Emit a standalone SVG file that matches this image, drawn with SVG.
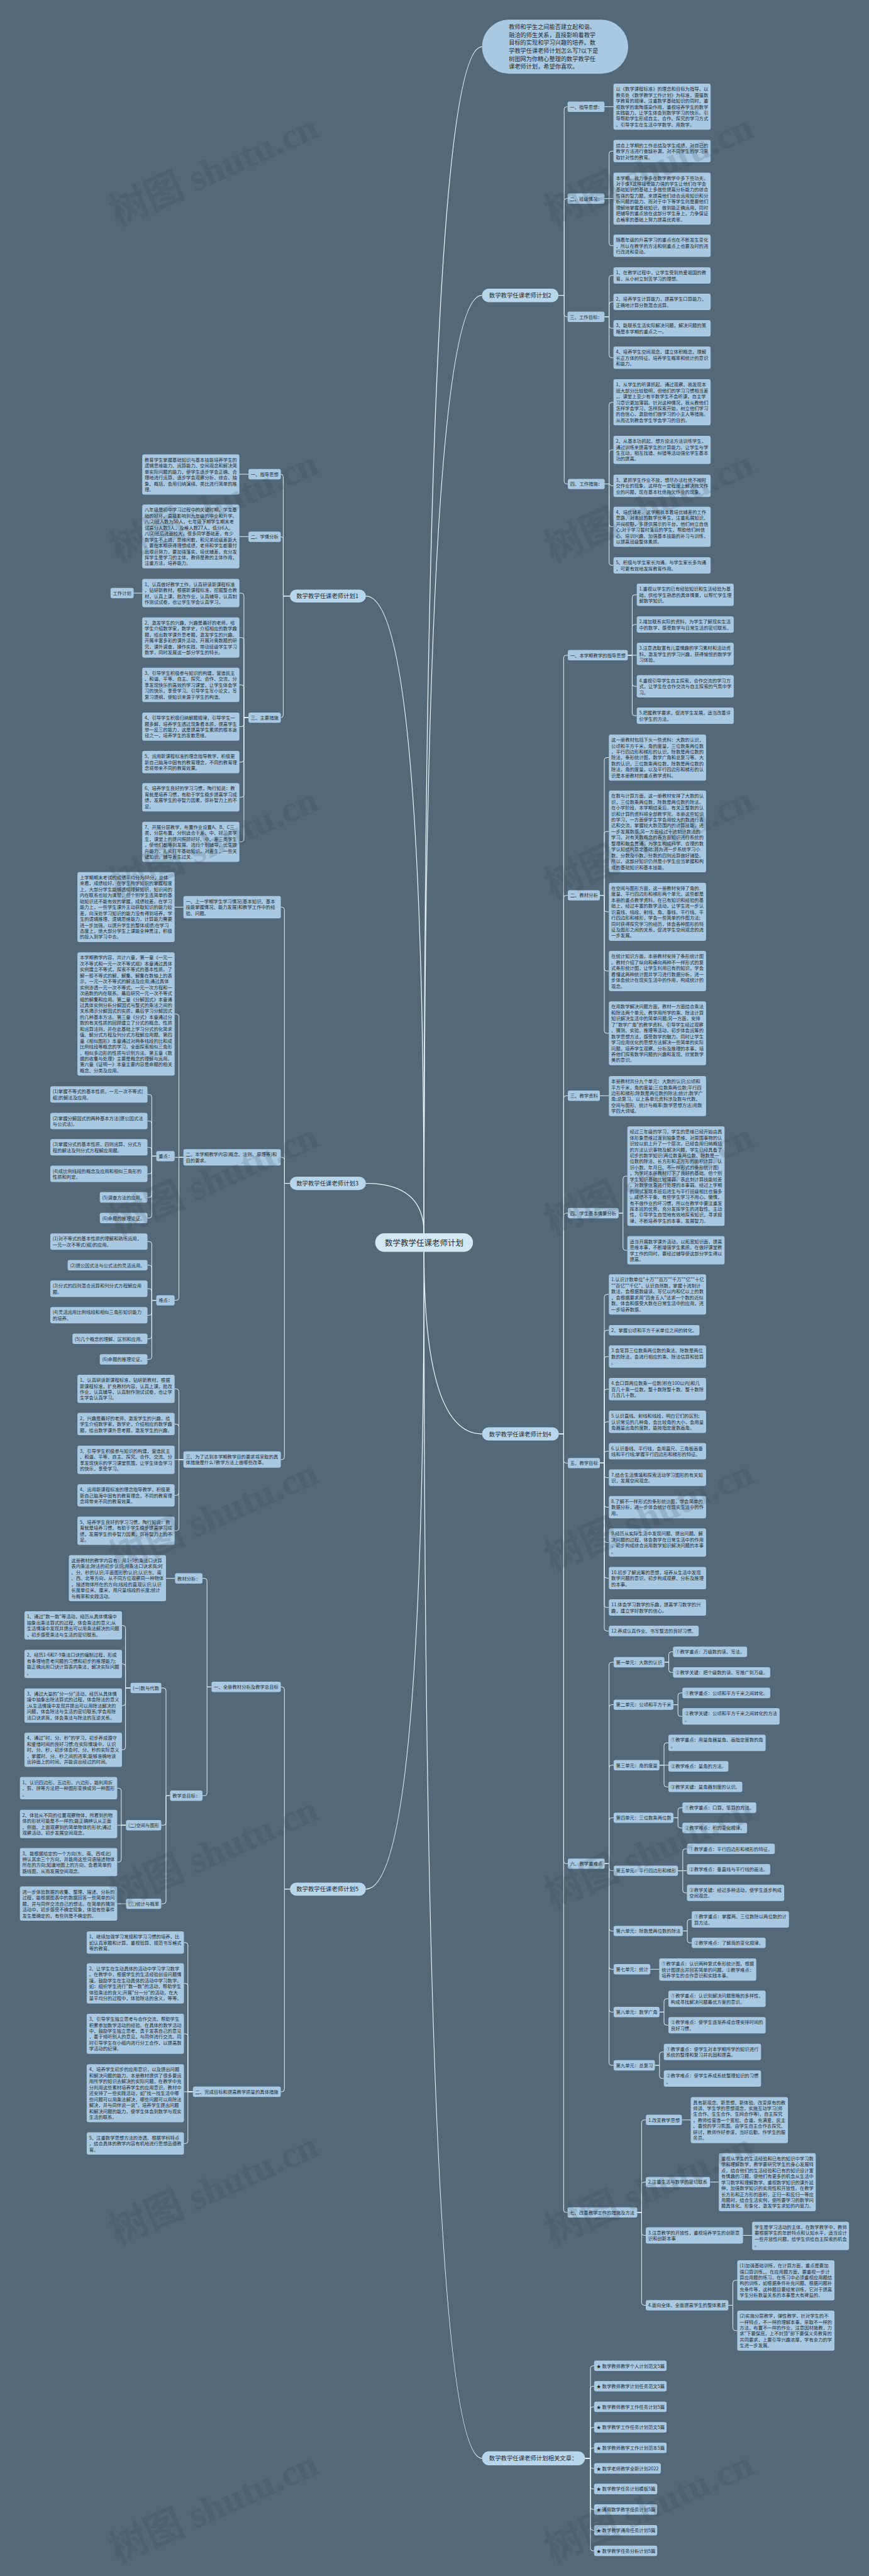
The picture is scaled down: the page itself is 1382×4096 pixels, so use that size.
<svg xmlns="http://www.w3.org/2000/svg" width="1382" height="4096" viewBox="0 0 1382 4096">
<style>
.t{font-family:"Noto Sans CJK SC","Noto Sans",sans-serif;font-size:7.35px;fill:#262b30}
.b{fill:#a9c9e2}
.r{fill:#b7d5eb}
.ce{fill:#d2e7f4}
.ti{font-size:9.2px}
.tb{font-size:9.4px}
.tc{font-size:12.5px}
.c{fill:none;stroke:#e0f0fa;stroke-width:1}
.m{fill:none;stroke:#e6f4fc;stroke-width:1.3}
.wm{font-family:"Liberation Serif","Noto Sans CJK SC",serif;font-size:60px;font-weight:bold;fill:#2a3a46;opacity:.16}
</style>
<rect width="1382" height="4096" fill="#536979"/>
<g id="connectors">
<path class="m" d="M674.3,1961Q674.3,74.3 766.6,74.3"/>
<path class="m" d="M674.3,1961Q674.3,469.6 766.6,469.6"/>
<path class="m" d="M674.3,1961Q674.3,947.8 581.9,947.8"/>
<path class="m" d="M674.3,1961Q674.3,1881.6 581.9,1881.6"/>
<path class="m" d="M674.3,1990.5Q674.3,2280 766.6,2280"/>
<path class="m" d="M674.3,1990.5Q674.3,3003.8 581.9,3003.8"/>
<path class="m" d="M674.3,1990.5Q674.3,3908.9 766.6,3908.9"/>
<path class="c" d="M888.1,469.6H897.2V173.7Q897.2,169.7 901.2,169.7H902.6M888.1,469.6H897.2V319.6Q897.2,315.6 901.2,315.6H902.6M888.1,469.6H897.2V499.7Q897.2,503.7 901.2,503.7H902.6M888.1,469.6H897.2V765.5Q897.2,769.5 901.2,769.5H903"/>
<path class="c" d="M961.3,169.7H975.6M961.3,315.6H968.7V244.3Q968.7,240.3 972.7,240.3H975.6M961.3,315.6H975.6M961.3,315.6H968.7V386.7Q968.7,390.7 972.7,390.7H975.6"/>
<path class="c" d="M961.3,503.7H968.7V441.9Q968.7,437.9 972.7,437.9H975.6M961.3,503.7H968.7V484Q968.7,480 972.7,480H975.6M961.3,503.7H968.7V518Q968.7,522 972.7,522H975.6M961.3,503.7H968.7V564.8Q968.7,568.8 972.7,568.8H975.6"/>
<path class="c" d="M961.6,769.5H968.7V643.7Q968.7,639.7 972.7,639.7H975.6M961.6,769.5H968.7V719.4Q968.7,715.4 972.7,715.4H975.6M961.6,769.5H968.7C970.7,769.5 970.7,772.5 972.7,772.5H975.6M961.6,769.5H968.7V833.6Q968.7,837.6 972.7,837.6H975.6M961.6,769.5H968.7V894.9Q968.7,898.9 972.7,898.9H975.6"/>
<path class="c" d="M461,947.8H450.4V757.8Q450.4,754 446.6,754M461,947.8H450.4V857.1Q450.4,853.3 446.6,853.3M461,947.8H450.4V1137.2Q450.4,1141 446.6,1141"/>
<path class="c" d="M395.1,754H380.7M395.1,853.3H380.7M226.2,943.1H212.5"/>
<path class="c" d="M395.1,1141H387.9V947.1Q387.9,943.1 383.9,943.1H380.7M395.1,1141H387.9V1017.7Q387.9,1013.7 383.9,1013.7H380.7M395.1,1141H387.9V1093Q387.9,1089 383.9,1089H380.7M395.1,1141H387.9V1151.4Q387.9,1155.4 383.9,1155.4H380.7M395.1,1141H387.9V1207.8Q387.9,1211.8 383.9,1211.8H380.7M395.1,1141H387.9V1263.7Q387.9,1267.7 383.9,1267.7H380.7M395.1,1141H387.9V1334.6Q387.9,1338.6 383.9,1338.6H380.7"/>
<path class="c" d="M461,1881.6H452.3V1446.4Q452.3,1442.4 448.3,1442.4H446.6M461,1881.6H452.3V1844.2Q452.3,1840.2 448.3,1840.2H446.6M461,1881.6H452.3V2316.8Q452.3,2320.8 448.3,2320.8H446.6"/>
<path class="c" d="M291.7,1442.4H277.7M291.7,1840.2H284.5V1616.3Q284.5,1612.3 280.5,1612.3H277.7M291.7,1840.2H277.7M291.7,1840.2H284.5V2063.6Q284.5,2067.6 280.5,2067.6H277.7"/>
<path class="c" d="M248.5,1838.4H241.3V1744.3Q241.3,1740.3 237.3,1740.3H234.5M248.5,1838.4H241.3V1786.5Q241.3,1782.5 237.3,1782.5H234.5M248.5,1838.4H241.3V1828.3Q241.3,1824.3 237.3,1824.3H234.5M248.5,1838.4H241.3V1862.5Q241.3,1866.5 237.3,1866.5H234.5M248.5,1838.4H241.3V1899.9Q241.3,1903.9 237.3,1903.9H234.5M248.5,1838.4H241.3V1932.7Q241.3,1936.7 237.3,1936.7H234.5"/>
<path class="c" d="M248.5,2067.6H241.3V1978.2Q241.3,1974.2 237.3,1974.2H234.5M248.5,2067.6H241.3V2015.7Q241.3,2011.7 237.3,2011.7H234.5M248.5,2067.6H241.3V2053.1Q241.3,2049.1 237.3,2049.1H234.5M248.5,2067.6H241.3V2087.3Q241.3,2091.3 237.3,2091.3H234.5M248.5,2067.6H241.3V2124.8Q241.3,2128.8 237.3,2128.8H234.5M248.5,2067.6H241.3V2157.5Q241.3,2161.5 237.3,2161.5H234.5"/>
<path class="c" d="M291.7,2320.8H284.5V2212.4Q284.5,2208.4 280.5,2208.4H277.7M291.7,2320.8H284.5V2268.4Q284.5,2264.4 280.5,2264.4H277.7M291.7,2320.8H277.7M291.7,2320.8H284.5V2373.7Q284.5,2377.7 280.5,2377.7H277.7M291.7,2320.8H284.5V2430Q284.5,2434 280.5,2434H277.7"/>
<path class="c" d="M461,3003.8H452.3V2686.3Q452.3,2682.3 448.3,2682.3H446.6M461,3003.8H452.3V3322Q452.3,3326 448.3,3326H446.6"/>
<path class="c" d="M336.4,2682.3H329.2V2513.7Q329.2,2509.7 325.2,2509.7H322M336.4,2682.3H329.2V2851.3Q329.2,2855.3 325.2,2855.3H322M278.4,2509.7H264"/>
<path class="c" d="M270.5,2855.3H264V2688Q264,2684 260,2684H256.5M270.5,2855.3H264V2898.2Q264,2902.2 260,2902.2H256.5M270.5,2855.3H264V3023.1Q264,3027.1 260,3027.1H256.5"/>
<path class="c" d="M207.6,2684H199.6V2588.6Q199.6,2584.6 195.6,2584.6H194M207.6,2684H199.6V2649.8Q199.6,2645.8 195.6,2645.8H194M207.6,2684H199.6V2708Q199.6,2712 195.6,2712H194M207.6,2684H199.6V2778.2Q199.6,2782.2 195.6,2782.2H194"/>
<path class="c" d="M200.4,2902.2H192.8V2847.4Q192.8,2843.4 188.8,2843.4H186.4M200.4,2902.2H186.4M200.4,2902.2H192.8V2956.9Q192.8,2960.9 188.8,2960.9H186.4M200.4,3027.1H186.4"/>
<path class="c" d="M306.8,3326H298.8V3092.8Q298.8,3088.8 294.8,3088.8H292.5M306.8,3326H298.8V3157.7Q298.8,3153.7 294.8,3153.7H292.5M306.8,3326H298.8V3237.8Q298.8,3233.8 294.8,3233.8H292.5M306.8,3326H292.5M306.8,3326H298.8V3404.4Q298.8,3408.4 294.8,3408.4H292.5"/>
<path class="c" d="M888.9,2280H896.4V1045.8Q896.4,1041.8 900.4,1041.8H903M888.9,2280H896.4V1427.6Q896.4,1423.6 900.4,1423.6H903M888.9,2280H896.4V1746.3Q896.4,1742.3 900.4,1742.3H903M888.9,2280H896.4V1933Q896.4,1929 900.4,1929H903M888.9,2280H896.4V2322.4Q896.4,2326.4 900.4,2326.4H903M888.9,2280H896.4V2959.4Q896.4,2963.4 900.4,2963.4H903M888.9,2280H896.4V3513.9Q896.4,3517.9 900.4,3517.9H903"/>
<path class="c" d="M998.4,1041.8H1005.4V949.8Q1005.4,945.8 1009.4,945.8H1012.6M998.4,1041.8H1005.4V996.9Q1005.4,992.9 1009.4,992.9H1012.6M998.4,1041.8H1012.6M998.4,1041.8H1005.4V1087.3Q1005.4,1091.3 1009.4,1091.3H1012.6M998.4,1041.8H1005.4V1134Q1005.4,1138 1009.4,1138H1012.6"/>
<path class="c" d="M954,1423.6H961V1208.6Q961,1204.6 965,1204.6H968.3M954,1423.6H961V1326Q961,1322 965,1322H968.3M954,1423.6H961V1445.8Q961,1449.8 965,1449.8H968.3M954,1423.6H961V1540Q961,1544 965,1544H968.3M954,1423.6H961V1639Q961,1643 965,1643H968.3M954,1742.3H968.3"/>
<path class="c" d="M983.8,1929H990.8V1874.2Q990.8,1870.2 994.8,1870.2H997.7M983.8,1929H990.8V1984.1Q990.8,1988.1 994.8,1988.1H997.7"/>
<path class="c" d="M954,2326.4H961V2062.2Q961,2058.2 965,2058.2H968.3M954,2326.4H961V2119.2Q961,2115.2 965,2115.2H968.3M954,2326.4H961V2161Q961,2157 965,2157H968.3M954,2326.4H961V2212.9Q961,2208.9 965,2208.9H968.3M954,2326.4H961V2264.8Q961,2260.8 965,2260.8H968.3M954,2326.4H961V2311.5Q961,2307.5 965,2307.5H968.3M954,2326.4H961V2345.6Q961,2349.6 965,2349.6H968.3M954,2326.4H961V2392.5Q961,2396.5 965,2396.5H968.3M954,2326.4H961V2448.7Q961,2452.7 965,2452.7H968.3M954,2326.4H961V2505.3Q961,2509.3 965,2509.3H968.3M954,2326.4H961V2552Q961,2556 965,2556H968.3M954,2326.4H961V2589.4Q961,2593.4 965,2593.4H968.3"/>
<path class="c" d="M961.6,2963.4H968.6V2647Q968.6,2643 972.6,2643H975.9M961.6,2963.4H968.6V2714.6Q968.6,2710.6 972.6,2710.6H975.9M961.6,2963.4H968.6V2810.7Q968.6,2806.7 972.6,2806.7H975.9M961.6,2963.4H968.6V2894.4Q968.6,2890.4 972.6,2890.4H975.9M961.6,2963.4H968.6V2970.6Q968.6,2974.6 972.6,2974.6H975.9M961.6,2963.4H968.6V3066.4Q968.6,3070.4 972.6,3070.4H975.9M961.6,2963.4H968.6V3127.3Q968.6,3131.3 972.6,3131.3H975.9M961.6,2963.4H968.6V3195.3Q968.6,3199.3 972.6,3199.3H975.9M961.6,2963.4H968.6V3280Q968.6,3284 972.6,3284H975.9"/>
<path class="c" d="M1056.7,2643H1063.6V2630.5Q1063.6,2626.5 1067.6,2626.5H1070.3M1056.7,2643H1063.6V2655.2Q1063.6,2659.2 1067.6,2659.2H1070.3"/>
<path class="c" d="M1070.9,2710.6H1078.2V2695.9Q1078.2,2691.9 1082.2,2691.9H1085.2M1070.9,2710.6H1078.2V2725.1Q1078.2,2729.1 1082.2,2729.1H1085.2"/>
<path class="c" d="M1048.8,2806.7H1056V2775.2Q1056,2771.2 1060,2771.2H1063M1048.8,2806.7H1063M1048.8,2806.7H1056V2837.3Q1056,2841.3 1060,2841.3H1063"/>
<path class="c" d="M1070.9,2890.4H1078.2V2878.4Q1078.2,2874.4 1082.2,2874.4H1085.2M1070.9,2890.4H1078.2V2902.6Q1078.2,2906.6 1082.2,2906.6H1085.2"/>
<path class="c" d="M1078.2,2974.6H1085.8V2943.8Q1085.8,2939.8 1089.8,2939.8H1092.5M1078.2,2974.6H1092.5M1078.2,2974.6H1085.8V3005.8Q1085.8,3009.8 1089.8,3009.8H1092.5"/>
<path class="c" d="M1085.8,3070.4H1093.1V3055.9Q1093.1,3051.9 1097.1,3051.9H1100.1M1085.8,3070.4H1093.1V3085.3Q1093.1,3089.3 1097.1,3089.3H1100.1M1034.2,3131.3H1048.4"/>
<path class="c" d="M1048.8,3199.3H1056V3182.2Q1056,3178.2 1060,3178.2H1063M1048.8,3199.3H1056V3216.2Q1056,3220.2 1060,3220.2H1063"/>
<path class="c" d="M1041.5,3284H1048.8V3266.8Q1048.8,3262.8 1052.8,3262.8H1055.7M1041.5,3284H1048.8V3300.9Q1048.8,3304.9 1052.8,3304.9H1055.7"/>
<path class="c" d="M1013.4,3517.9H1020.4V3374.8Q1020.4,3370.8 1024.4,3370.8H1027M1013.4,3517.9H1020.4V3473.6Q1020.4,3469.6 1024.4,3469.6H1027M1013.4,3517.9H1020.4V3550.4Q1020.4,3554.4 1024.4,3554.4H1027M1013.4,3517.9H1020.4V3661.5Q1020.4,3665.5 1024.4,3665.5H1027"/>
<path class="c" d="M1084.5,3370.8H1098.5M1129.1,3469.6H1143.2M1181.6,3554.4H1196.1M1158.4,3665.5H1165.5V3629.8Q1165.5,3625.8 1169.5,3625.8H1172.5M1158.4,3665.5H1165.5V3701.8Q1165.5,3705.8 1169.5,3705.8H1172.5"/>
<path class="c" d="M930.3,3908.9H939V3765.7Q939,3761.7 943,3761.7H944.8M930.3,3908.9H939V3798.3Q939,3794.3 943,3794.3H944.8M930.3,3908.9H939V3831Q939,3827 943,3827H944.8M930.3,3908.9H939V3863.6Q939,3859.6 943,3859.6H944.8M930.3,3908.9H939V3896.3Q939,3892.3 943,3892.3H944.8M930.3,3908.9H939V3920.9Q939,3924.9 943,3924.9H944.8M930.3,3908.9H939V3953.6Q939,3957.6 943,3957.6H944.8M930.3,3908.9H939V3986.2Q939,3990.2 943,3990.2H944.8M930.3,3908.9H939V4019.3Q939,4023.3 943,4023.3H944.8M930.3,3908.9H939V4052Q939,4056 943,4056H944.8"/>
</g>

<g id="central" transform="translate(596.7,1961)"><rect class="ce" width="155.5" height="29.5" rx="14.75"/><text class="t tc" x="77.7" y="19.5" text-anchor="middle">数学教学任课老师计划</text></g>

<g id="intro" transform="translate(766.6,31.3)"><rect class="b" width="232.4" height="86" rx="43"/><text class="t ti" y="14.7"><tspan x="42.6">教师和学生之间能否建立起和谐、</tspan><tspan x="42.6" dy="12.7">融洽的师生关系，直接影响着教学</tspan><tspan x="42.6" dy="12.7">目标的实现和学习兴趣的培养。数</tspan><tspan x="42.6" dy="12.7">学教学任课老师计划怎么写?以下是</tspan><tspan x="42.6" dy="12.7">树图网为你精心整理的数学教学任</tspan><tspan x="42.6" dy="12.7">课老师计划，希望你喜欢。</tspan></text></g>

<g id="plan2" transform="translate(766.6,458.9)"><rect class="r" width="121.5" height="21.5" rx="10.75"/><text class="t tb" x="11.2" y="14.3">数学教学任课老师计划2</text></g>
<g id="p2-h1" transform="translate(902.6,161.6)"><rect class="b" width="58.7" height="16.4" rx="3"/><text class="t" x="3.7" y="11">一、指导思想：</text></g>
<g id="p2-h1-a" transform="translate(975.6,133)"><rect class="b" width="154.5" height="73.3" rx="3"/><text class="t" y="11.2"><tspan x="3.8">以《数学课程标准》的理念和目标为指导，以</tspan><tspan x="3.8" dy="9.45">教务处《数学教学工作计划》为标准，遵循数</tspan><tspan x="3.8" dy="9.45">学教育的规律，注重数学基础知识的同时，重</tspan><tspan x="3.8" dy="9.45">视数学的熏陶感染作用，重视培养学生的数学</tspan><tspan x="3.8" dy="9.45">实践能力，让学生体会到数学学习的快乐。引</tspan><tspan x="3.8" dy="9.45">导帮助学生形成自主、合作、探究的学习方式</tspan><tspan x="3.8" dy="9.45">。引导学生在生活中学数学、用数学。</tspan></text></g>
<g id="p2-h2" transform="translate(902.6,307.6)"><rect class="b" width="58.7" height="16.4" rx="3"/><text class="t" x="3.7" y="11">二、班级情况：</text></g>
<g id="p2-h2-a" transform="translate(975.6,222.5)"><rect class="b" width="154.5" height="35.5" rx="3"/><text class="t" y="11.2"><tspan x="3.8">结合上学期的工作总结及学生成绩，对自己的</tspan><tspan x="3.8" dy="9.45">教学方法进行查缺补漏，对不同学生的学习采</tspan><tspan x="3.8" dy="9.45">取针对性的教育。</tspan></text></g>
<g id="p2-h2-b" transform="translate(975.6,274.4)"><rect class="b" width="154.5" height="82.75" rx="3"/><text class="t" y="11.2"><tspan x="3.8">本学期。我力争多在数学教学中多下些功夫。</tspan><tspan x="3.8" dy="9.45">对于像X这样接受能力强的学生让他们在学会</tspan><tspan x="3.8" dy="9.45">基础知识的基础上多做些提高分析能力的综合</tspan><tspan x="3.8" dy="9.45">性强的智力题，来提高他们综合运用知识和分</tspan><tspan x="3.8" dy="9.45">析问题的能力。而对于中下等学生则是要他们</tspan><tspan x="3.8" dy="9.45">理解地掌握基础知识，做到能正确运用，同时</tspan><tspan x="3.8" dy="9.45">把辅导的重点放在这部分学生身上，力争保证</tspan><tspan x="3.8" dy="9.45">合格率的基础上努力提高优秀率。</tspan></text></g>
<g id="p2-h2-c" transform="translate(975.6,372.9)"><rect class="b" width="154.5" height="35.5" rx="3"/><text class="t" y="11.2"><tspan x="3.8">随着年级的升高学习的重点也在不断发生变化</tspan><tspan x="3.8" dy="9.45">，所以在教学的方法和侧重点上也要及时的进</tspan><tspan x="3.8" dy="9.45">行改进和变动。</tspan></text></g>
<g id="p2-h3" transform="translate(902.6,495.6)"><rect class="b" width="58.7" height="16.4" rx="3"/><text class="t" x="3.7" y="11">三、工作目标：</text></g>
<g id="p2-h3-a" transform="translate(975.6,424.9)"><rect class="b" width="154.5" height="26.05" rx="3"/><text class="t" y="11.2"><tspan x="3.8">1、在教学过程中，让学生受到热爱祖国的教</tspan><tspan x="3.8" dy="9.45">育，从小树立刻苦学习的理想。</tspan></text></g>
<g id="p2-h3-b" transform="translate(975.6,467)"><rect class="b" width="154.5" height="26.05" rx="3"/><text class="t" y="11.2"><tspan x="3.8">2、培养学生计算能力，提高学生口算能力，</tspan><tspan x="3.8" dy="9.45">正确地计算分数混合运算。</tspan></text></g>
<g id="p2-h3-c" transform="translate(975.6,509)"><rect class="b" width="154.5" height="26.05" rx="3"/><text class="t" y="11.2"><tspan x="3.8">3、能联系生活实际解决问题，解决问题的策</tspan><tspan x="3.8" dy="9.45">略是本学期的重点之一。</tspan></text></g>
<g id="p2-h3-d" transform="translate(975.6,551.1)"><rect class="b" width="154.5" height="35.5" rx="3"/><text class="t" y="11.2"><tspan x="3.8">4、培养学生空间观念，建立体积概念，理解</tspan><tspan x="3.8" dy="9.45">长正方体的特征。培养学生概率和统计的意识</tspan><tspan x="3.8" dy="9.45">和能力。</tspan></text></g>
<g id="p2-h4" transform="translate(903,761.4)"><rect class="b" width="58.6" height="16.4" rx="3"/><text class="t" x="3.7" y="11">四、工作措施：</text></g>
<g id="p2-h4-a" transform="translate(975.6,603)"><rect class="b" width="154.5" height="73.3" rx="3"/><text class="t" y="11.2"><tspan x="3.8">1、从学生的听课抓起。通过观察，我发现本</tspan><tspan x="3.8" dy="9.45">班大部分比较聪明，但他们的学习习惯相当差</tspan><tspan x="3.8" dy="9.45">，。课堂上至少有半数学生不会听课，自主学</tspan><tspan x="3.8" dy="9.45">习意识更加薄弱。针对这种情况，我从教他们</tspan><tspan x="3.8" dy="9.45">怎样学会学习，怎样探索开始，树立他们学习</tspan><tspan x="3.8" dy="9.45">的自信心，激励他们做学习的小主人等措施。</tspan><tspan x="3.8" dy="9.45">从而达到教会学生学会学习的目的。</tspan></text></g>
<g id="p2-h4-b" transform="translate(975.6,692.9)"><rect class="b" width="154.5" height="44.95" rx="3"/><text class="t" y="11.2"><tspan x="3.8">2、从基本功抓起。想方设法方法训练学生，</tspan><tspan x="3.8" dy="9.45">通过训练来提高学生的计算能力。让学生与学</tspan><tspan x="3.8" dy="9.45">生互动，相互找错、纠错等活动强化学生基本</tspan><tspan x="3.8" dy="9.45">功的提高。</tspan></text></g>
<g id="p2-h4-c" transform="translate(975.6,754.7)"><rect class="b" width="154.5" height="35.5" rx="3"/><text class="t" y="11.2"><tspan x="3.8">3、紧抓学生作业不放，想尽办法杜绝不按时</tspan><tspan x="3.8" dy="9.45">交作业的现象。这样在一定程度上解决拖欠作</tspan><tspan x="3.8" dy="9.45">业的问题，现在基本杜绝拖欠作业的现象。</tspan></text></g>
<g id="p2-h4-d" transform="translate(975.6,805.7)"><rect class="b" width="154.5" height="63.85" rx="3"/><text class="t" y="11.2"><tspan x="3.8">4、培优辅差。这学期我本着培优辅差的工作</tspan><tspan x="3.8" dy="9.45">思路，对本班的数学优等生，注重拓展知识、</tspan><tspan x="3.8" dy="9.45">开阔视野，多提供展示的平台，他们树立自信</tspan><tspan x="3.8" dy="9.45">心;对于学习暂时落后的学生，帮助他们树信</tspan><tspan x="3.8" dy="9.45">心、培训兴趣、加强基本技能的补习与训练，</tspan><tspan x="3.8" dy="9.45">以提高班级整体素质。</tspan></text></g>
<g id="p2-h4-e" transform="translate(975.6,885.9)"><rect class="b" width="154.5" height="26.05" rx="3"/><text class="t" y="11.2"><tspan x="3.8">5、积极与学生家长沟通。与学生家长多沟通</tspan><tspan x="3.8" dy="9.45">，可更有效地发挥教育作用。</tspan></text></g>

<g id="plan1" transform="translate(461,937.4)"><rect class="r" width="120.9" height="20.7" rx="10.35"/><text class="t tb" x="10.2" y="13.9">数学教学任课老师计划1</text></g>
<g id="p1-h1" transform="translate(395.1,745.8)"><rect class="b" width="51.5" height="16.4" rx="3"/><text class="t" x="3.7" y="11">一、指导思想</text></g>
<g id="p1-h1-a" transform="translate(226.2,722.6)"><rect class="b" width="154.5" height="63.85" rx="3"/><text class="t" y="11.2"><tspan x="3.8">教育学生掌握基础知识与基本技能培养学生的</tspan><tspan x="3.8" dy="9.45">逻辑思维能力、运算能力、空间观念和解决简</tspan><tspan x="3.8" dy="9.45">单实际问题的能力，使学生逐步学会正确、合</tspan><tspan x="3.8" dy="9.45">理地进行运算，逐步学会观察分析、综合、抽</tspan><tspan x="3.8" dy="9.45">象、概括，会用归纳演绎、类比进行简单的推</tspan><tspan x="3.8" dy="9.45">理。</tspan></text></g>
<g id="p1-h2" transform="translate(395.1,845.3)"><rect class="b" width="51.5" height="16.4" rx="3"/><text class="t" x="3.7" y="11">二、学情分析</text></g>
<g id="p1-h2-a" transform="translate(226.2,802.2)"><rect class="b" width="154.5" height="101.65" rx="3"/><text class="t" y="11.2"><tspan x="3.8">八年级是初中学习过程中的关键时期，学生基</tspan><tspan x="3.8" dy="9.45">础的好坏，直接影响到九年级的毕业和升学。</tspan><tspan x="3.8" dy="9.45">八(2)班人数为50人，七年级下期学生期末考</tspan><tspan x="3.8" dy="9.45">试高分人数9人，及格人数27人，低分6人。</tspan><tspan x="3.8" dy="9.45">八(2)班后进面较大，很多同学基础差，有少</tspan><tspan x="3.8" dy="9.45">数学生不上进，思维闲散，和兄弟班级差距大</tspan><tspan x="3.8" dy="9.45">。要在本期获得理想成绩，老师和学生都要付</tspan><tspan x="3.8" dy="9.45">出艰巨努力，要加强落实，培优辅差，充分发</tspan><tspan x="3.8" dy="9.45">挥学生是学习的主体，教师是教的主体作用，</tspan><tspan x="3.8" dy="9.45">注重方法，培养能力。</tspan></text></g>
<g id="p1-h3" transform="translate(395.1,1132.9)"><rect class="b" width="51.5" height="16.4" rx="3"/><text class="t" x="3.7" y="11">三、主要措施</text></g>
<g id="p1-h3-a" transform="translate(226.2,920.6)"><rect class="b" width="154.5" height="44.95" rx="3"/><text class="t" y="11.2"><tspan x="3.8">1、认真做好教学工作。认真研读新课程标准</tspan><tspan x="3.8" dy="9.45">，钻研新教材，根据新课程标准，挖掘整合教</tspan><tspan x="3.8" dy="9.45">材，认真上课，批改作业，认真辅导，认真制</tspan><tspan x="3.8" dy="9.45">作测试试卷，也让学生学会认真学习，</tspan></text></g>
<g id="p1-h3-a-1" transform="translate(175.8,934.8)"><rect class="b" width="36.7" height="16.4" rx="3"/><text class="t" x="3.7" y="11">工作计划</text></g>
<g id="p1-h3-b" transform="translate(226.2,981.8)"><rect class="b" width="154.5" height="63.85" rx="3"/><text class="t" y="11.2"><tspan x="3.8">2、激发学生的兴趣，兴趣是最好的老师。给</tspan><tspan x="3.8" dy="9.45">学生介绍数学家，数学史，介绍相应的数学趣</tspan><tspan x="3.8" dy="9.45">题，给出数学课外思考题，激发学生的兴趣。</tspan><tspan x="3.8" dy="9.45">开展丰富多彩的课外活动，开展对奥数题的研</tspan><tspan x="3.8" dy="9.45">究，课外调查，操作实践，带动班级学生学习</tspan><tspan x="3.8" dy="9.45">数学，同时发展这一部分学生的特长。</tspan></text></g>
<g id="p1-h3-c" transform="translate(226.2,1061.8)"><rect class="b" width="154.5" height="54.4" rx="3"/><text class="t" y="11.2"><tspan x="3.8">3、引导学生积极参与知识的构建，营造民主</tspan><tspan x="3.8" dy="9.45">、和谐、平等、自主、探究、合作、交流、分</tspan><tspan x="3.8" dy="9.45">享发现快乐的高效的学习课堂，让学生体会学</tspan><tspan x="3.8" dy="9.45">习的快乐，享受学习。引导学生写小论文，写</tspan><tspan x="3.8" dy="9.45">复习提纲，使知识来源于学生的构造。</tspan></text></g>
<g id="p1-h3-d" transform="translate(226.2,1132.9)"><rect class="b" width="154.5" height="44.95" rx="3"/><text class="t" y="11.2"><tspan x="3.8">4、引导学生积极归纳解题规律，引导学生一</tspan><tspan x="3.8" dy="9.45">题多解，培养学生透过现象看本质，提高学生</tspan><tspan x="3.8" dy="9.45">举一反三的能力，这是提高学生素质的根本途</tspan><tspan x="3.8" dy="9.45">径之一，培养学生的发散思维。</tspan></text></g>
<g id="p1-h3-e" transform="translate(226.2,1194)"><rect class="b" width="154.5" height="35.5" rx="3"/><text class="t" y="11.2"><tspan x="3.8">5、运用新课程标准的理念指导教学，积极更</tspan><tspan x="3.8" dy="9.45">新自己脑海中固有的教育理念，不同的教育理</tspan><tspan x="3.8" dy="9.45">念将带来不同的教育效果。</tspan></text></g>
<g id="p1-h3-f" transform="translate(226.2,1245.2)"><rect class="b" width="154.5" height="44.95" rx="3"/><text class="t" y="11.2"><tspan x="3.8">6、培养学生良好的学习习惯，陶行知说：教</tspan><tspan x="3.8" dy="9.45">育就是培养习惯，有助于学生稳步提高学习成</tspan><tspan x="3.8" dy="9.45">绩，发展学生的非智力因素，弥补智力上的不</tspan><tspan x="3.8" dy="9.45">足。</tspan></text></g>
<g id="p1-h3-g" transform="translate(226.2,1306.7)"><rect class="b" width="154.5" height="63.85" rx="3"/><text class="t" y="11.2"><tspan x="3.8">7、开展分层教学，布置作业设置A、B、C三</tspan><tspan x="3.8" dy="9.45">类，分层布置，分别适合于差、中、好三类学</tspan><tspan x="3.8" dy="9.45">生，课堂上的提问照顾好好、中、差三类学生</tspan><tspan x="3.8" dy="9.45">，使他们都等到发展。进行个别辅导，优生提</tspan><tspan x="3.8" dy="9.45">升能力，扎实打牢基础知识，对差生，一些关</tspan><tspan x="3.8" dy="9.45">键知识，辅导差生过关.</tspan></text></g>

<g id="plan3" transform="translate(461,1871.1)"><rect class="r" width="120.9" height="21.1" rx="10.5"/><text class="t tb" x="10.2" y="14.1">数学教学任课老师计划3</text></g>
<g id="p3-h1" transform="translate(291.7,1424.7)"><rect class="b" width="154.9" height="35.5" rx="3"/><text class="t" y="11.2"><tspan x="3.8">一、上一学期学生学习情况(基本知识、基本</tspan><tspan x="3.8" dy="9.45">技能掌握情况、能力发展)和教学工作中的经</tspan><tspan x="3.8" dy="9.45">验、问题。</tspan></text></g>
<g id="p3-h1-a" transform="translate(123.1,1386.8)"><rect class="b" width="154.6" height="111.1" rx="3"/><text class="t" y="11.2"><tspan x="3.8">上学期期末考试的成绩平均分为88分，总体</tspan><tspan x="3.8" dy="9.45">来看，成绩较好。在学生所学知识的掌握程度</tspan><tspan x="3.8" dy="9.45">上，大部分学生能够透彻理解知识，知识间的</tspan><tspan x="3.8" dy="9.45">内在联系也较为清楚，但个别学生连简单的基</tspan><tspan x="3.8" dy="9.45">础知识还不能有效的掌握，成绩较差。在学习</tspan><tspan x="3.8" dy="9.45">能力上，一些学生课外主动获取知识的能力较</tspan><tspan x="3.8" dy="9.45">差，向深处学习知识的能力没有得到培养，学</tspan><tspan x="3.8" dy="9.45">生的逻辑推理、逻辑思维能力，计算能力需要</tspan><tspan x="3.8" dy="9.45">进一步加强，以提升学生的整体成绩;在学习</tspan><tspan x="3.8" dy="9.45">态度上，绝大部分学生上课能全神贯注，积极</tspan><tspan x="3.8" dy="9.45">的投入到学习中去。</tspan></text></g>
<g id="p3-h2" transform="translate(291.7,1827.2)"><rect class="b" width="154.9" height="26.05" rx="3"/><text class="t" y="11.2"><tspan x="3.8">二、本学期教学内容(概念、法则、原理等)和</tspan><tspan x="3.8" dy="9.45">目的要求。</tspan></text></g>
<g id="p3-h2-a" transform="translate(123.1,1514.2)"><rect class="b" width="154.6" height="196.15" rx="3"/><text class="t" y="11.2"><tspan x="3.8">本学期教学内容，共计六章，第一章《一元一</tspan><tspan x="3.8" dy="9.45">次不等式和一元一次不等式组》本章通过具体</tspan><tspan x="3.8" dy="9.45">实例建立不等式，探索不等式的基本性质，了</tspan><tspan x="3.8" dy="9.45">解一般不等式的解、解集、解集在数轴上的表</tspan><tspan x="3.8" dy="9.45">示，一元一次不等式的解法及应用;通过具体</tspan><tspan x="3.8" dy="9.45">实例渗透一元一次不等式、一元一次方程和一</tspan><tspan x="3.8" dy="9.45">次函数的内在联系。最后研究一元一次不等式</tspan><tspan x="3.8" dy="9.45">组的解集和应用。第二章《分解因式》本章通</tspan><tspan x="3.8" dy="9.45">过具体实例分析分解因式与整式的乘法之间的</tspan><tspan x="3.8" dy="9.45">关系揭示分解因式的实质，最后学习分解因式</tspan><tspan x="3.8" dy="9.45">的几种基本方法。第三章《分式》本章通过分</tspan><tspan x="3.8" dy="9.45">数的有关性质的回顾建立了分式的概念、性质</tspan><tspan x="3.8" dy="9.45">和运算法则，并在此基础上学习分式的化简求</tspan><tspan x="3.8" dy="9.45">值、解分式方程及列分式方程解应用题。第四</tspan><tspan x="3.8" dy="9.45">章《相似图形》本章通过对两条线段的比和成</tspan><tspan x="3.8" dy="9.45">比例线段等概念的学习，全面探索相似三角形</tspan><tspan x="3.8" dy="9.45">、相似多边形的性质与识别方法。第五章《数</tspan><tspan x="3.8" dy="9.45">据的收集与处理》主要是概念的理解与运用。</tspan><tspan x="3.8" dy="9.45">第六章《证明一》本章主要内容是命题的相关</tspan><tspan x="3.8" dy="9.45">概念、分类及应用。</tspan></text></g>
<g id="p3-zd" transform="translate(248.5,1830.2)"><rect class="b" width="29.2" height="16.4" rx="3"/><text class="t" x="3.7" y="11">重点：</text></g>
<g id="p3-zd-1" transform="translate(80,1727.3)"><rect class="b" width="154.5" height="26.05" rx="3"/><text class="t" y="11.2"><tspan x="3.8">(1)掌握不等式的基本性质，一元一次不等式(</tspan><tspan x="3.8" dy="9.45">组)的解法及应用。</tspan></text></g>
<g id="p3-zd-2" transform="translate(80,1769.5)"><rect class="b" width="154.5" height="26.05" rx="3"/><text class="t" y="11.2"><tspan x="3.8">(2)掌握分解因式的两种基本方法(提公因式法</tspan><tspan x="3.8" dy="9.45">与公式法)。</tspan></text></g>
<g id="p3-zd-3" transform="translate(80,1811.3)"><rect class="b" width="154.5" height="26.05" rx="3"/><text class="t" y="11.2"><tspan x="3.8">(3)掌握分式的基本性质、四则运算、分式方</tspan><tspan x="3.8" dy="9.45">程的解法及列分式方程解应用题。</tspan></text></g>
<g id="p3-zd-4" transform="translate(80,1853.5)"><rect class="b" width="154.5" height="26.05" rx="3"/><text class="t" y="11.2"><tspan x="3.8">(4)成比例线段的概念及应用和相似三角形的</tspan><tspan x="3.8" dy="9.45">性质和判定。</tspan></text></g>
<g id="p3-zd-5" transform="translate(158.7,1895.6)"><rect class="b" width="75.8" height="16.6" rx="3"/><text class="t" x="3.8" y="11.2">(5)调查方法的应用。</text></g>
<g id="p3-zd-6" transform="translate(158.7,1928.4)"><rect class="b" width="75.8" height="16.6" rx="3"/><text class="t" x="3.8" y="11.2">(6)命题的推理论证。</text></g>
<g id="p3-nd" transform="translate(248.5,2059.4)"><rect class="b" width="29.2" height="16.4" rx="3"/><text class="t" x="3.7" y="11">难点：</text></g>
<g id="p3-nd-1" transform="translate(80,1961.2)"><rect class="b" width="154.5" height="26.05" rx="3"/><text class="t" y="11.2"><tspan x="3.8">(1)对不等式的基本性质的理解和熟练运用，</tspan><tspan x="3.8" dy="9.45">一元一次不等式(组)的应用。</tspan></text></g>
<g id="p3-nd-2" transform="translate(107.6,2003.4)"><rect class="b" width="126.9" height="16.6" rx="3"/><text class="t" x="3.8" y="11.2">(2)提公因式法与公式法的灵活运用。</text></g>
<g id="p3-nd-3" transform="translate(80,2036.1)"><rect class="b" width="154.5" height="26.05" rx="3"/><text class="t" y="11.2"><tspan x="3.8">(3)分式的四则混合运算和列分式方程解应用</tspan><tspan x="3.8" dy="9.45">题。</tspan></text></g>
<g id="p3-nd-4" transform="translate(80,2078.3)"><rect class="b" width="154.5" height="26.05" rx="3"/><text class="t" y="11.2"><tspan x="3.8">(4)灵活运用比例线段和相似三角形知识能力</tspan><tspan x="3.8" dy="9.45">的培养。</tspan></text></g>
<g id="p3-nd-5" transform="translate(115.2,2120.5)"><rect class="b" width="119.3" height="16.6" rx="3"/><text class="t" x="3.8" y="11.2">(5)几个概念的理解、区别和应用。</text></g>
<g id="p3-nd-6" transform="translate(158.7,2153.2)"><rect class="b" width="75.8" height="16.6" rx="3"/><text class="t" x="3.8" y="11.2">(6)命题的推理论证。</text></g>
<g id="p3-h3" transform="translate(291.7,2307.8)"><rect class="b" width="154.9" height="26.05" rx="3"/><text class="t" y="11.2"><tspan x="3.8">三、为了达到本学期教学目的要求将采取的具</tspan><tspan x="3.8" dy="9.45">体措施是什么?教学方法上做哪些改革。</tspan></text></g>
<g id="p3-h3-a" transform="translate(123.1,2185.9)"><rect class="b" width="154.6" height="44.95" rx="3"/><text class="t" y="11.2"><tspan x="3.8">1、认真研读新课程标准，钻研新教材，根据</tspan><tspan x="3.8" dy="9.45">新课程标准，扩充教材内容，认真上课，批改</tspan><tspan x="3.8" dy="9.45">作业，认真辅导，认真制作测试试卷，也让学</tspan><tspan x="3.8" dy="9.45">生学会认真学习。</tspan></text></g>
<g id="p3-h3-b" transform="translate(123.1,2246.6)"><rect class="b" width="154.6" height="35.5" rx="3"/><text class="t" y="11.2"><tspan x="3.8">2、兴趣是最好的老师，激发学生的兴趣，给</tspan><tspan x="3.8" dy="9.45">学生介绍数学家，数学史，介绍相应的数学趣</tspan><tspan x="3.8" dy="9.45">题，给出数学课外思考题，激发学生的兴趣。</tspan></text></g>
<g id="p3-h3-c" transform="translate(123.1,2298.7)"><rect class="b" width="154.6" height="44.95" rx="3"/><text class="t" y="11.2"><tspan x="3.8">3、引导学生积极参与知识的构建，营造民主</tspan><tspan x="3.8" dy="9.45">、和谐、平等、自主、探究、合作、交流、分</tspan><tspan x="3.8" dy="9.45">享发现快乐的学习课堂氛围，让学生体会学习</tspan><tspan x="3.8" dy="9.45">的快乐，享受学习。</tspan></text></g>
<g id="p3-h3-d" transform="translate(123.1,2359.9)"><rect class="b" width="154.6" height="35.5" rx="3"/><text class="t" y="11.2"><tspan x="3.8">4、运用新课程标准的理念指导教学，积极更</tspan><tspan x="3.8" dy="9.45">新自己脑海中固有的教育理念，不同的教育理</tspan><tspan x="3.8" dy="9.45">念将带来不同的教育效果。</tspan></text></g>
<g id="p3-h3-e" transform="translate(123.1,2411.5)"><rect class="b" width="154.6" height="44.95" rx="3"/><text class="t" y="11.2"><tspan x="3.8">5、培养学生良好的学习习惯，陶行知说：教</tspan><tspan x="3.8" dy="9.45">育就是培养习惯，有助于学生稳步提高学习成</tspan><tspan x="3.8" dy="9.45">绩，发展学生的非智力因素，弥补智力上的不</tspan><tspan x="3.8" dy="9.45">足。</tspan></text></g>

<g id="plan5" transform="translate(461,2993.5)"><rect class="r" width="120.9" height="20.7" rx="10.35"/><text class="t tb" x="10.2" y="13.9">数学教学任课老师计划5</text></g>
<g id="p5-h1" transform="translate(336.4,2674.1)"><rect class="b" width="110.2" height="16.4" rx="3"/><text class="t" x="3.7" y="11">一、全册教材分析及教学总目标</text></g>
<g id="p5-jc" transform="translate(278.4,2501.5)"><rect class="b" width="43.6" height="16.4" rx="3"/><text class="t" x="3.7" y="11">教材分析：</text></g>
<g id="p5-jc-a" transform="translate(109.5,2472.7)"><rect class="b" width="154.5" height="73.3" rx="3"/><text class="t" y="11.2"><tspan x="3.8">这册教材的教学内容有：用1~9的乘法口诀算</tspan><tspan x="3.8" dy="9.45">表内乘法;除法的初步认识;用乘法口诀求商;时</tspan><tspan x="3.8" dy="9.45">、分、秒的认识;平面图形的认识;认识东、南</tspan><tspan x="3.8" dy="9.45">、西、北等方向，从不同方位观察同一种物体</tspan><tspan x="3.8" dy="9.45">，描述物体所在的方向;线段的直观认识;认识</tspan><tspan x="3.8" dy="9.45">长度单位米、厘米，用尺量线段的长度;统计</tspan><tspan x="3.8" dy="9.45">与概率和实践活动。</tspan></text></g>
<g id="p5-mb" transform="translate(270.5,2847.1)"><rect class="b" width="51.5" height="16.4" rx="3"/><text class="t" x="3.7" y="11">教学总目标：</text></g>
<g id="p5-mb-1" transform="translate(207.6,2675.8)"><rect class="b" width="48.9" height="16.4" rx="3"/><text class="t" x="3.7" y="11">(一)数与代数</text></g>
<g id="p5-mb-1a" transform="translate(38.9,2562.1)"><rect class="b" width="155.1" height="44.95" rx="3"/><text class="t" y="11.2"><tspan x="3.8">1、通过"数一数"等活动，经历从具体情境中</tspan><tspan x="3.8" dy="9.45">抽象出乘法算式的过程，体会乘法的意义;从</tspan><tspan x="3.8" dy="9.45">生活情境中发现并提出可以用乘法解决的问题</tspan><tspan x="3.8" dy="9.45">，初步感受乘法与生活的密切联系。</tspan></text></g>
<g id="p5-mb-1b" transform="translate(38.9,2623.3)"><rect class="b" width="155.1" height="44.95" rx="3"/><text class="t" y="11.2"><tspan x="3.8">2、经历1-6和7-9乘法口诀的编制过程，形成</tspan><tspan x="3.8" dy="9.45">有条理地思考问题的习惯和初步的推理能力;</tspan><tspan x="3.8" dy="9.45">能正确运用口诀计算表内乘法，解决实际问题</tspan><tspan x="3.8" dy="9.45">。</tspan></text></g>
<g id="p5-mb-1c" transform="translate(38.9,2684.8)"><rect class="b" width="155.1" height="54.4" rx="3"/><text class="t" y="11.2"><tspan x="3.8">3、通过大量的"分一分"活动，经历从具体情</tspan><tspan x="3.8" dy="9.45">境中抽象出除法算式的过程，体会除法的意义</tspan><tspan x="3.8" dy="9.45">;从生活情境中发现并提出可以用除法解决的</tspan><tspan x="3.8" dy="9.45">问题，体会除法与生活的密切联系;学会用除</tspan><tspan x="3.8" dy="9.45">法口诀求商，体会乘法与除法的互逆关系。</tspan></text></g>
<g id="p5-mb-1d" transform="translate(38.9,2755)"><rect class="b" width="155.1" height="54.4" rx="3"/><text class="t" y="11.2"><tspan x="3.8">4、通过"时、分、秒"的学习，初步养成遵守</tspan><tspan x="3.8" dy="9.45">和爱惜时间的良好习惯;在实际情境中，认识</tspan><tspan x="3.8" dy="9.45">时、分、秒，初步体会时、分、秒的实际意义</tspan><tspan x="3.8" dy="9.45">，掌握时、分、秒之间的进率;能够准确地读</tspan><tspan x="3.8" dy="9.45">出钟面上的时间，并能说出经过的时间。</tspan></text></g>
<g id="p5-mb-2" transform="translate(200.4,2894)"><rect class="b" width="56.1" height="16.4" rx="3"/><text class="t" x="3.7" y="11">(二)空间与图形</text></g>
<g id="p5-mb-2a" transform="translate(31.7,2825.6)"><rect class="b" width="154.7" height="35.5" rx="3"/><text class="t" y="11.2"><tspan x="3.8">1、认识四边形、五边形、六边形，能利用折</tspan><tspan x="3.8" dy="9.45">、剪、拼等方法把一种图形变换成另一种图形</tspan><tspan x="3.8" dy="9.45">。</tspan></text></g>
<g id="p5-mb-2b" transform="translate(31.7,2877.7)"><rect class="b" width="154.7" height="44.95" rx="3"/><text class="t" y="11.2"><tspan x="3.8">2、体验从不同的位置观察物体，所看到的物</tspan><tspan x="3.8" dy="9.45">体的形状可能是不一样的;能正确辨认从正面</tspan><tspan x="3.8" dy="9.45">、侧面、上面观察到的简单物体的形状;通过</tspan><tspan x="3.8" dy="9.45">观察活动，初步发展空间观念。</tspan></text></g>
<g id="p5-mb-2c" transform="translate(31.7,2938.4)"><rect class="b" width="154.7" height="44.95" rx="3"/><text class="t" y="11.2"><tspan x="3.8">3、能根据给定的一个方向(东、南、西或北)</tspan><tspan x="3.8" dy="9.45">辨认其余三个方向，并能用这些词语描述物体</tspan><tspan x="3.8" dy="9.45">所在的方向;知道地图上的方向，会看简单的</tspan><tspan x="3.8" dy="9.45">路线图，从而发展空间观念。</tspan></text></g>
<g id="p5-mb-3" transform="translate(200.4,3018.9)"><rect class="b" width="56.1" height="16.4" rx="3"/><text class="t" x="3.7" y="11">(三)统计与概率</text></g>
<g id="p5-mb-3a" transform="translate(31.7,2999.5)"><rect class="b" width="154.7" height="54.4" rx="3"/><text class="t" y="11.2"><tspan x="3.8">进一步体验数据的收集、整理、描述、分析的</tspan><tspan x="3.8" dy="9.45">过程，能根据图表中的数据回答一些简单的问</tspan><tspan x="3.8" dy="9.45">题，并与同伴交流自己的想法。在简单的猜测</tspan><tspan x="3.8" dy="9.45">活动中，初步感受不确定现象，体验有些事件</tspan><tspan x="3.8" dy="9.45">发生是确定的，有些则是不确定的。</tspan></text></g>
<g id="p5-h2" transform="translate(306.8,3317.8)"><rect class="b" width="139.8" height="16.4" rx="3"/><text class="t" x="3.7" y="11">二、完成目标和提高教学质量的具体措施</text></g>
<g id="p5-h2-a" transform="translate(137.9,3071)"><rect class="b" width="154.6" height="35.5" rx="3"/><text class="t" y="11.2"><tspan x="3.8">1、继续加强学习常规和学习习惯的培养，比</tspan><tspan x="3.8" dy="9.45">如认真审题和计算、重视验算、规范书写格式</tspan><tspan x="3.8" dy="9.45">等的教育。</tspan></text></g>
<g id="p5-h2-b" transform="translate(137.9,3121.8)"><rect class="b" width="154.6" height="63.85" rx="3"/><text class="t" y="11.2"><tspan x="3.8">2、让学生在生动具体的活动中学习学习数学</tspan><tspan x="3.8" dy="9.45">。在教学中，根据学生的生活经验创设问题情</tspan><tspan x="3.8" dy="9.45">境，鼓励学生在生动具体的活动中学习数学。</tspan><tspan x="3.8" dy="9.45">如：组织学生进行"数一数"的活动，帮助学生</tspan><tspan x="3.8" dy="9.45">体验乘法的含义;开展"分一分"的活动，在大</tspan><tspan x="3.8" dy="9.45">量平均分的过程中，体验除法的含义，等等。</tspan></text></g>
<g id="p5-h2-c" transform="translate(137.9,3201.9)"><rect class="b" width="154.6" height="63.85" rx="3"/><text class="t" y="11.2"><tspan x="3.8">3、引导学生独立思考与合作交流，帮助学生</tspan><tspan x="3.8" dy="9.45">积累参加数学活动的经验。在具体的数学活动</tspan><tspan x="3.8" dy="9.45">中，鼓励学生独立思考、勇于发表自己的意见</tspan><tspan x="3.8" dy="9.45">，善于倾听别人的意见，与同伴进行交流。同</tspan><tspan x="3.8" dy="9.45">时引导学生在小组内进行分工合作，以提高数</tspan><tspan x="3.8" dy="9.45">学活动的纪律。</tspan></text></g>
<g id="p5-h2-d" transform="translate(137.9,3282.3)"><rect class="b" width="154.6" height="92.2" rx="3"/><text class="t" y="11.2"><tspan x="3.8">4、培养学生初步的应用意识，以及提出问题</tspan><tspan x="3.8" dy="9.45">和解决问题的能力。本册教材提供了很多要运</tspan><tspan x="3.8" dy="9.45">用所学的知识去解决的实际问题，在教学中充</tspan><tspan x="3.8" dy="9.45">分利用这些素材培养学生的应用意识。教材中</tspan><tspan x="3.8" dy="9.45">还安排了一些实践活动，如"找一找生活中哪</tspan><tspan x="3.8" dy="9.45">些问题可以用乘法解决，哪些问题可以用除法</tspan><tspan x="3.8" dy="9.45">解决，并与同伴说一说"，培养学生提出问题</tspan><tspan x="3.8" dy="9.45">和解决问题的能力，使学生体会到数学与现实</tspan><tspan x="3.8" dy="9.45">生活的联系。</tspan></text></g>
<g id="p5-h2-e" transform="translate(137.9,3390.6)"><rect class="b" width="154.6" height="35.5" rx="3"/><text class="t" y="11.2"><tspan x="3.8">5、注重数学思想方法的渗透。根据学科特点</tspan><tspan x="3.8" dy="9.45">，结合具体的教学内容有机地进行思想品德教</tspan><tspan x="3.8" dy="9.45">育。</tspan></text></g>

<g id="plan4" transform="translate(766.6,2269.5)"><rect class="r" width="122.3" height="21" rx="10.5"/><text class="t tb" x="11.2" y="14.1">数学教学任课老师计划4</text></g>
<g id="p4-h1" transform="translate(903,1033.6)"><rect class="b" width="95.4" height="16.4" rx="3"/><text class="t" x="3.7" y="11">一、本学期教学的指导思想</text></g>
<g id="p4-h1-a" transform="translate(1012.6,928)"><rect class="b" width="154.3" height="35.5" rx="3"/><text class="t" y="11.2"><tspan x="3.8">1.重视以学生的已有经验知识和生活经验为基</tspan><tspan x="3.8" dy="9.45">础，供给学生熟悉的具体情景，以帮忙学生理</tspan><tspan x="3.8" dy="9.45">解数学知识。</tspan></text></g>
<g id="p4-h1-b" transform="translate(1012.6,979.9)"><rect class="b" width="154.3" height="26.05" rx="3"/><text class="t" y="11.2"><tspan x="3.8">2.增加联系实际的资料，为学生了解现实生活</tspan><tspan x="3.8" dy="9.45">中的数学，感受数学与日常生活的密切联系。</tspan></text></g>
<g id="p4-h1-c" transform="translate(1012.6,1022)"><rect class="b" width="154.3" height="35.5" rx="3"/><text class="t" y="11.2"><tspan x="3.8">3.注意选取富有儿童情趣的学习素材和活动资</tspan><tspan x="3.8" dy="9.45">料，激发学生的学习兴趣，获得愉悦的数学学</tspan><tspan x="3.8" dy="9.45">习体验。</tspan></text></g>
<g id="p4-h1-d" transform="translate(1012.6,1073.5)"><rect class="b" width="154.3" height="35.5" rx="3"/><text class="t" y="11.2"><tspan x="3.8">4.重视引导学生自主探索，合作交流的学习方</tspan><tspan x="3.8" dy="9.45">式，让学生在合作交流与自主探索的气氛中学</tspan><tspan x="3.8" dy="9.45">习。</tspan></text></g>
<g id="p4-h1-e" transform="translate(1012.6,1125)"><rect class="b" width="154.3" height="26.05" rx="3"/><text class="t" y="11.2"><tspan x="3.8">5.把握教学要求，促进学生发展，适当改善评</tspan><tspan x="3.8" dy="9.45">价学生的方法。</tspan></text></g>
<g id="p4-h2" transform="translate(903,1415.4)"><rect class="b" width="51" height="16.4" rx="3"/><text class="t" x="3.7" y="11">二、教材分析</text></g>
<g id="p4-h2-a" transform="translate(968.3,1167.9)"><rect class="b" width="154.6" height="73.3" rx="3"/><text class="t" y="11.2"><tspan x="3.8">这一册教材包括下头一些资料：大数的认识，</tspan><tspan x="3.8" dy="9.45">公顷和平方千米，角的度量，三位数乘两位数</tspan><tspan x="3.8" dy="9.45">，平行四边形和梯形的认识，除数是两位数的</tspan><tspan x="3.8" dy="9.45">除法，条形统计图，数学广角和总复习等。大</tspan><tspan x="3.8" dy="9.45">数的认识，三位数乘两位数，除数是两位数的</tspan><tspan x="3.8" dy="9.45">除法，角的度量，以及平行四边形和梯形的认</tspan><tspan x="3.8" dy="9.45">识是本册教材的重点教学资料。</tspan></text></g>
<g id="p4-h2-b" transform="translate(968.3,1257)"><rect class="b" width="154.6" height="130" rx="3"/><text class="t" y="11.2"><tspan x="3.8">在数与计算方面，这一册教材安排了大数的认</tspan><tspan x="3.8" dy="9.45">识，三位数乘两位数，除数是两位数的除法。</tspan><tspan x="3.8" dy="9.45">在小学阶段，本学期结束后，有关正整数的认</tspan><tspan x="3.8" dy="9.45">识和计算的资料将全部教学完。本册这些知识</tspan><tspan x="3.8" dy="9.45">的学习，一方面使学生学会用较大的数进行表</tspan><tspan x="3.8" dy="9.45">达和交流，掌握较大数范围内的计算技能，进</tspan><tspan x="3.8" dy="9.45">一步发展数感;另一方面经过十进制计数法的</tspan><tspan x="3.8" dy="9.45">学习，对有关数概念的各方面知识进行系统的</tspan><tspan x="3.8" dy="9.45">整理和融会贯通，为学生构成科学、合理的数</tspan><tspan x="3.8" dy="9.45">学认知结构奠定基础;并为进一步系统学习小</tspan><tspan x="3.8" dy="9.45">数、分数及小数、分数的四则运算做好铺垫。</tspan><tspan x="3.8" dy="9.45">所以，这部分知识仍然是小学生应当掌握和构</tspan><tspan x="3.8" dy="9.45">成的基础知识和基本技能。</tspan></text></g>
<g id="p4-h2-c" transform="translate(968.3,1403.7)"><rect class="b" width="154.6" height="92.2" rx="3"/><text class="t" y="11.2"><tspan x="3.8">在空间与图形方面，这一册教材安排了角的.</tspan><tspan x="3.8" dy="9.45">度量、平行四边形和梯形两个单元，这些都是</tspan><tspan x="3.8" dy="9.45">本册的重点教学资料。在已有知识和经验的基</tspan><tspan x="3.8" dy="9.45">础上，经过丰富的数学活动，让学生进一步认</tspan><tspan x="3.8" dy="9.45">识直线、线段、射线、角、垂线、平行线、平</tspan><tspan x="3.8" dy="9.45">行四边形和梯形，学会一些简单的作图方法;</tspan><tspan x="3.8" dy="9.45">同时获得探究学习的经历，体会各种图形的特</tspan><tspan x="3.8" dy="9.45">征及图形之间的关系，促进学生空间观念的进</tspan><tspan x="3.8" dy="9.45">一步发展。</tspan></text></g>
<g id="p4-h2-d" transform="translate(968.3,1512.1)"><rect class="b" width="154.6" height="63.85" rx="3"/><text class="t" y="11.2"><tspan x="3.8">在统计知识方面，本册教材安排了条形统计图</tspan><tspan x="3.8" dy="9.45">。教材介绍了纵向和横向两种不一样形式的复</tspan><tspan x="3.8" dy="9.45">式条形统计图，让学生利用已有的知识，学会</tspan><tspan x="3.8" dy="9.45">看懂这两种统计图并学习进行数据分析，进一</tspan><tspan x="3.8" dy="9.45">步体会统计在现实生活中的作用，构成统计的</tspan><tspan x="3.8" dy="9.45">观念。</tspan></text></g>
<g id="p4-h2-e" transform="translate(968.3,1592.2)"><rect class="b" width="154.6" height="101.65" rx="3"/><text class="t" y="11.2"><tspan x="3.8">在用数学解决问题方面，教材一方面结合乘法</tspan><tspan x="3.8" dy="9.45">和除法两个单元，教学用所学的乘、除法计算</tspan><tspan x="3.8" dy="9.45">知识解决生活中的简单问题;另一方面，安排</tspan><tspan x="3.8" dy="9.45">了"数学广角"的教学资料，引导学生经过观察</tspan><tspan x="3.8" dy="9.45">、猜测、实验、推理等活动，初步体会运筹的</tspan><tspan x="3.8" dy="9.45">数学思想方法，感受数学的魅力。同时让学生</tspan><tspan x="3.8" dy="9.45">学习应用优化的思想方法解决一些简单的实际</tspan><tspan x="3.8" dy="9.45">问题，培养学生观察、分析及推理的本事，培</tspan><tspan x="3.8" dy="9.45">养他们探索数学问题的兴趣和发现、欣赏数学</tspan><tspan x="3.8" dy="9.45">美的意识。</tspan></text></g>
<g id="p4-h3" transform="translate(903,1734.1)"><rect class="b" width="51" height="16.4" rx="3"/><text class="t" x="3.7" y="11">三、教学资料</text></g>
<g id="p4-h3-a" transform="translate(968.3,1710.9)"><rect class="b" width="154.6" height="63.85" rx="3"/><text class="t" y="11.2"><tspan x="3.8">本册教材共分九个单元：大数的认识;公顷和</tspan><tspan x="3.8" dy="9.45">平方千米，角的度量;三位数乘两位数;平行四</tspan><tspan x="3.8" dy="9.45">边形和梯形;除数是两位数的除法;统计;数学广</tspan><tspan x="3.8" dy="9.45">角;总复习。以上各单元资料涉及数与代数、</tspan><tspan x="3.8" dy="9.45">空间与图形、统计与概率(数学思想方法)用数</tspan><tspan x="3.8" dy="9.45">学四大领域。</tspan></text></g>
<g id="p4-h4" transform="translate(903,1920.8)"><rect class="b" width="80.8" height="16.4" rx="3"/><text class="t" x="3.7" y="11">四、学生基本情景分析</text></g>
<g id="p4-h4-a" transform="translate(997.7,1791)"><rect class="b" width="154.6" height="158.35" rx="3"/><text class="t" y="11.2"><tspan x="3.8">经过三年级的学习，学生的思维已经开始由具</tspan><tspan x="3.8" dy="9.45">体形象思维过渡到抽象思维，对周围事物的认</tspan><tspan x="3.8" dy="9.45">识较以前上升了一个层次，已经会用归纳概括</tspan><tspan x="3.8" dy="9.45">的方法认识事物及解决问题，学生已经具备了</tspan><tspan x="3.8" dy="9.45">初步的数学知识(两位数乘两位数、除数是一</tspan><tspan x="3.8" dy="9.45">位数的除法、长方形和正方形的面积计算、认</tspan><tspan x="3.8" dy="9.45">识小数、年月日、不一样形式的条形统计图)</tspan><tspan x="3.8" dy="9.45">，为学好本册教材打下了良好的基础。但个别</tspan><tspan x="3.8" dy="9.45">学生知识基础比较薄弱，表此刻计算技能较差</tspan><tspan x="3.8" dy="9.45">，对数学信息进行处理的本事弱。经过上学期</tspan><tspan x="3.8" dy="9.45">的测试发现本班后进生与平行班级相比也偏多</tspan><tspan x="3.8" dy="9.45">，成绩不平衡，有些学生学习不用心，懒惰，</tspan><tspan x="3.8" dy="9.45">有不做作业的坏习惯，所以在教学中要注重发</tspan><tspan x="3.8" dy="9.45">挥本班的优势，充分发挥学生的进取性、主动</tspan><tspan x="3.8" dy="9.45">性，引导学生自觉地有效地探索知识，寻求规</tspan><tspan x="3.8" dy="9.45">律，不断培养学生的本事，发展智力。</tspan></text></g>
<g id="p4-h4-b" transform="translate(997.7,1965.6)"><rect class="b" width="154.6" height="44.95" rx="3"/><text class="t" y="11.2"><tspan x="3.8">适当开展数学课外活动，以拓宽知识面，提高</tspan><tspan x="3.8" dy="9.45">思维本事，不断增强学生素质。在做好课堂教</tspan><tspan x="3.8" dy="9.45">学工作的同时，要经过辅导使这部分学生得以</tspan><tspan x="3.8" dy="9.45">提高。</tspan></text></g>
<g id="p4-h5" transform="translate(903,2318.2)"><rect class="b" width="51" height="16.4" rx="3"/><text class="t" x="3.7" y="11">五、教学目标</text></g>
<g id="p4-h5-1" transform="translate(968.3,2026.3)"><rect class="b" width="154.6" height="63.85" rx="3"/><text class="t" y="11.2"><tspan x="3.8">1.认识计数单位"十万""百万""千万""亿""十亿</tspan><tspan x="3.8" dy="9.45">""百亿""千亿"，认识自然数，掌握十进制计</tspan><tspan x="3.8" dy="9.45">数法，会根据数级读、写亿以内和亿以上的数</tspan><tspan x="3.8" dy="9.45">，会根据要求用"四舍五入"法求一个数的近似</tspan><tspan x="3.8" dy="9.45">数。体会和感受大数在日常生活中的应用，进</tspan><tspan x="3.8" dy="9.45">一步培养数感。</tspan></text></g>
<g id="p4-h5-2" transform="translate(968.3,2106.9)"><rect class="b" width="144.1" height="16.6" rx="3"/><text class="t" x="3.8" y="11.2">2、掌握公顷和平方千米单位之间的转化。</text></g>
<g id="p4-h5-3" transform="translate(968.3,2139.2)"><rect class="b" width="154.6" height="35.5" rx="3"/><text class="t" y="11.2"><tspan x="3.8">3.会笔算三位数乘两位数的乘法、除数是两位</tspan><tspan x="3.8" dy="9.45">数的除法，会进行相应的乘、除法估算和验算</tspan><tspan x="3.8" dy="9.45">。</tspan></text></g>
<g id="p4-h5-4" transform="translate(968.3,2191.1)"><rect class="b" width="154.6" height="35.5" rx="3"/><text class="t" y="11.2"><tspan x="3.8">4.会口算两位数乘一位数(积在100以内)和几</tspan><tspan x="3.8" dy="9.45">百几十乘一位数，整十数除整十数、整十数除</tspan><tspan x="3.8" dy="9.45">几百几十数。</tspan></text></g>
<g id="p4-h5-5" transform="translate(968.3,2243)"><rect class="b" width="154.6" height="35.5" rx="3"/><text class="t" y="11.2"><tspan x="3.8">5.认识直线、射线和线段，明白它们的区别;</tspan><tspan x="3.8" dy="9.45">认识常见的几种角，会比较角的大小，会用量</tspan><tspan x="3.8" dy="9.45">角器量出角的度数，能按指定度数画角。</tspan></text></g>
<g id="p4-h5-6" transform="translate(968.3,2294.5)"><rect class="b" width="154.6" height="26.05" rx="3"/><text class="t" y="11.2"><tspan x="3.8">6.认识垂线、平行线，会用直尺、三角板画垂</tspan><tspan x="3.8" dy="9.45">线和平行线;掌握平行四边形和梯形的特征。</tspan></text></g>
<g id="p4-h5-7" transform="translate(968.3,2336.6)"><rect class="b" width="154.6" height="26.05" rx="3"/><text class="t" y="11.2"><tspan x="3.8">7.结合生活情境和探索活动学习图形的有关知</tspan><tspan x="3.8" dy="9.45">识，发展空间观念。</tspan></text></g>
<g id="p4-h5-8" transform="translate(968.3,2378.7)"><rect class="b" width="154.6" height="35.5" rx="3"/><text class="t" y="11.2"><tspan x="3.8">8.了解不一样形式的条形统计图，学会简单的</tspan><tspan x="3.8" dy="9.45">数据分析，进一步体会统计在现实生活中的作</tspan><tspan x="3.8" dy="9.45">用。</tspan></text></g>
<g id="p4-h5-9" transform="translate(968.3,2430.2)"><rect class="b" width="154.6" height="44.95" rx="3"/><text class="t" y="11.2"><tspan x="3.8">9.经历从实际生活中发现问题、提出问题、解</tspan><tspan x="3.8" dy="9.45">决问题的过程，体会数学在日常生活中的作用</tspan><tspan x="3.8" dy="9.45">，初步构成综合运用数学知识解决问题的本事</tspan><tspan x="3.8" dy="9.45">。</tspan></text></g>
<g id="p4-h5-10" transform="translate(968.3,2491.5)"><rect class="b" width="154.6" height="35.5" rx="3"/><text class="t" y="11.2"><tspan x="3.8">10.初步了解运筹的思想，培养从生活中发现</tspan><tspan x="3.8" dy="9.45">数学问题的意识，初步构成观察、分析及推理</tspan><tspan x="3.8" dy="9.45">的本事。</tspan></text></g>
<g id="p4-h5-11" transform="translate(968.3,2543)"><rect class="b" width="154.6" height="26.05" rx="3"/><text class="t" y="11.2"><tspan x="3.8">11.体会学习数学的乐趣，提高学习数学的兴</tspan><tspan x="3.8" dy="9.45">趣，建立学好数学的信心。</tspan></text></g>
<g id="p4-h5-12" transform="translate(968.3,2585.1)"><rect class="b" width="142.9" height="16.6" rx="3"/><text class="t" x="3.8" y="11.2">12.养成认真作业、书写整洁的良好习惯。</text></g>
<g id="p4-h6" transform="translate(903,2955.2)"><rect class="b" width="58.6" height="16.4" rx="3"/><text class="t" x="3.7" y="11">六、教学重难点</text></g>
<g id="p4-u1" transform="translate(975.9,2634.8)"><rect class="b" width="80.8" height="16.4" rx="3"/><text class="t" x="3.7" y="11">第一单元：大数的认识</text></g>
<g id="p4-u1-a" transform="translate(1070.3,2618.2)"><rect class="b" width="117.8" height="16.6" rx="3"/><text class="t" x="3.8" y="11.2">①教学重点：万级数的读、写法。</text></g>
<g id="p4-u1-b" transform="translate(1070.3,2650.9)"><rect class="b" width="154.6" height="16.6" rx="3"/><text class="t" x="3.8" y="11.2">②教学关键：把个级数的读、写推广到万级。</text></g>
<g id="p4-u2" transform="translate(975.9,2702.4)"><rect class="b" width="95" height="16.4" rx="3"/><text class="t" x="3.7" y="11">第二单元：公顷和平方千米</text></g>
<g id="p4-u2-a" transform="translate(1085.2,2683.6)"><rect class="b" width="139.7" height="16.6" rx="3"/><text class="t" x="3.8" y="11.2">①教学重点：公顷和平方千米之间转化。</text></g>
<g id="p4-u2-b" transform="translate(1085.2,2716.1)"><rect class="b" width="154.6" height="26.05" rx="3"/><text class="t" y="11.2"><tspan x="3.8">②教学关键：公顷和平方千米之间转化的方法</tspan><tspan x="3.8" dy="9.45">。</tspan></text></g>
<g id="p4-u3" transform="translate(975.9,2798.5)"><rect class="b" width="72.9" height="16.4" rx="3"/><text class="t" x="3.7" y="11">第三单元：角的度量</text></g>
<g id="p4-u3-a" transform="translate(1063,2758.2)"><rect class="b" width="154.6" height="26.05" rx="3"/><text class="t" y="11.2"><tspan x="3.8">①教学重点：用量角器量角、画指定度数的角</tspan><tspan x="3.8" dy="9.45">。</tspan></text></g>
<g id="p4-u3-b" transform="translate(1063,2800.3)"><rect class="b" width="95.4" height="16.6" rx="3"/><text class="t" x="3.8" y="11.2">②教学难点：量角的方法。</text></g>
<g id="p4-u3-c" transform="translate(1063,2833)"><rect class="b" width="117.5" height="16.6" rx="3"/><text class="t" x="3.8" y="11.2">③教学关键：量角器刻度的认识。</text></g>
<g id="p4-u4" transform="translate(975.9,2882.2)"><rect class="b" width="95" height="16.4" rx="3"/><text class="t" x="3.7" y="11">第四单元：三位数乘两位数</text></g>
<g id="p4-u4-a" transform="translate(1085.2,2866.1)"><rect class="b" width="117.5" height="16.6" rx="3"/><text class="t" x="3.8" y="11.2">①教学重点：口算、笔算的方法。</text></g>
<g id="p4-u4-b" transform="translate(1085.2,2898.3)"><rect class="b" width="102.9" height="16.6" rx="3"/><text class="t" x="3.8" y="11.2">②教学难点：积的变化规律。</text></g>
<g id="p4-u5" transform="translate(975.9,2966.4)"><rect class="b" width="102.3" height="16.4" rx="3"/><text class="t" x="3.7" y="11">第五单元：平行四边形和梯形</text></g>
<g id="p4-u5-a" transform="translate(1092.5,2931.5)"><rect class="b" width="139.7" height="16.6" rx="3"/><text class="t" x="3.8" y="11.2">①教学重点：平行四边形和梯形的特征。</text></g>
<g id="p4-u5-b" transform="translate(1092.5,2964.1)"><rect class="b" width="132.4" height="16.6" rx="3"/><text class="t" x="3.8" y="11.2">②教学难点：垂直线与平行线的画法。</text></g>
<g id="p4-u5-c" transform="translate(1092.5,2996.8)"><rect class="b" width="154.6" height="26.05" rx="3"/><text class="t" y="11.2"><tspan x="3.8">③教学关键：经过多种活动，使学生逐步构成</tspan><tspan x="3.8" dy="9.45">空间观念。</tspan></text></g>
<g id="p4-u6" transform="translate(975.9,3062.2)"><rect class="b" width="109.9" height="16.4" rx="3"/><text class="t" x="3.7" y="11">第六单元：除数是两位数的除法</text></g>
<g id="p4-u6-a" transform="translate(1100.1,3038.9)"><rect class="b" width="154.6" height="26.05" rx="3"/><text class="t" y="11.2"><tspan x="3.8">①教学重点：掌握两、三位数除以两位数的计</tspan><tspan x="3.8" dy="9.45">算方法。</tspan></text></g>
<g id="p4-u6-b" transform="translate(1100.1,3081)"><rect class="b" width="117.5" height="16.6" rx="3"/><text class="t" x="3.8" y="11.2">②教学难点：了解商的变化规律。</text></g>
<g id="p4-u7" transform="translate(975.9,3123.1)"><rect class="b" width="58.3" height="16.4" rx="3"/><text class="t" x="3.7" y="11">第七单元：统计</text></g>
<g id="p4-u7-a" transform="translate(1048.4,3114.1)"><rect class="b" width="154.3" height="35.5" rx="3"/><text class="t" y="11.2"><tspan x="3.8">①教学重点：认识两种复式条形统计图，根据</tspan><tspan x="3.8" dy="9.45">统计图提出并回答简单的问题。②教学难点：</tspan><tspan x="3.8" dy="9.45">培养学生的合作意识和实践本事。</tspan></text></g>
<g id="p4-u8" transform="translate(975.9,3191.1)"><rect class="b" width="72.9" height="16.4" rx="3"/><text class="t" x="3.7" y="11">第八单元：数学广角</text></g>
<g id="p4-u8-a" transform="translate(1063,3165.2)"><rect class="b" width="154.6" height="26.05" rx="3"/><text class="t" y="11.2"><tspan x="3.8">①教学重点：认识到解决问题策略的多样性，</tspan><tspan x="3.8" dy="9.45">构成寻找解决问题最优方案的意识。</tspan></text></g>
<g id="p4-u8-b" transform="translate(1063,3207.2)"><rect class="b" width="154.6" height="26.05" rx="3"/><text class="t" y="11.2"><tspan x="3.8">②教学难点：使学生逐渐养成合理安排时间的</tspan><tspan x="3.8" dy="9.45">良好习惯。</tspan></text></g>
<g id="p4-u9" transform="translate(975.9,3275.8)"><rect class="b" width="65.6" height="16.4" rx="3"/><text class="t" x="3.7" y="11">第九单元：总复习</text></g>
<g id="p4-u9-a" transform="translate(1055.7,3249.8)"><rect class="b" width="154.6" height="26.05" rx="3"/><text class="t" y="11.2"><tspan x="3.8">①教学重点：使学生对本学期所学的知识进行</tspan><tspan x="3.8" dy="9.45">系统的整理和复习并巩固和提高。</tspan></text></g>
<g id="p4-u9-b" transform="translate(1055.7,3291.9)"><rect class="b" width="154.6" height="26.05" rx="3"/><text class="t" y="11.2"><tspan x="3.8">②教学难点：使学生养成系统整理知识的习惯</tspan><tspan x="3.8" dy="9.45">。</tspan></text></g>
<g id="p4-h7" transform="translate(902.6,3509.7)"><rect class="b" width="110.8" height="16.4" rx="3"/><text class="t" x="3.7" y="11">七、改善教学工作的措施及方法</text></g>
<g id="p4-h7-1" transform="translate(1027.2,3362.6)"><rect class="b" width="57.3" height="16.4" rx="3"/><text class="t" x="3.7" y="11">1.改变教学思想</text></g>
<g id="p4-h7-1a" transform="translate(1098.5,3334.4)"><rect class="b" width="154.6" height="73.3" rx="3"/><text class="t" y="11.2"><tspan x="3.8">具有新观念、新思想、新体验。改变原有的教</tspan><tspan x="3.8" dy="9.45">师讲、学生学的思想观念，实施互动学习(师</tspan><tspan x="3.8" dy="9.45">生合作、生生合作、生网合作等)，自主探究</tspan><tspan x="3.8" dy="9.45">，教师给营造一个宽松、合谐，充满爱、民主</tspan><tspan x="3.8" dy="9.45">、喜悦的学习氛围。由学生自主合作去探究、</tspan><tspan x="3.8" dy="9.45">研讨，教师作好参谋，当好后勤，作学生的服</tspan><tspan x="3.8" dy="9.45">务员。</tspan></text></g>
<g id="p4-h7-2" transform="translate(1027,3461.4)"><rect class="b" width="102.1" height="16.4" rx="3"/><text class="t" x="3.7" y="11">2.注重生活与数学的密切联系</text></g>
<g id="p4-h7-2a" transform="translate(1143.2,3423.7)"><rect class="b" width="154.1" height="92.2" rx="3"/><text class="t" y="11.2"><tspan x="3.8">重视从学生的生活经验和已有的知识中学习数</tspan><tspan x="3.8" dy="9.45">学和理解数学，教学要研究学生的身心发展特</tspan><tspan x="3.8" dy="9.45">点，结合他们的生活经验和已有的知识设计富</tspan><tspan x="3.8" dy="9.45">有情趣的习题，使他们有更多的机会从生活中</tspan><tspan x="3.8" dy="9.45">学习数学和理解数学。重视数学知识的课外延</tspan><tspan x="3.8" dy="9.45">伸，加强数学知识的实用性和开放性。在教学</tspan><tspan x="3.8" dy="9.45">长方形和正方形的面积，正归一和反归一等应</tspan><tspan x="3.8" dy="9.45">用题时，结合生活实例，使所要学习的数学问</tspan><tspan x="3.8" dy="9.45">题具体化、形象化，激发学生求知的内驱力。</tspan></text></g>
<g id="p4-h7-3" transform="translate(1027,3541.4)"><rect class="b" width="154.6" height="26.05" rx="3"/><text class="t" y="11.2"><tspan x="3.8">3.注意教学的开放性，重视培养学生的创新意</tspan><tspan x="3.8" dy="9.45">识和创新本事</tspan></text></g>
<g id="p4-h7-3a" transform="translate(1196.1,3532.7)"><rect class="b" width="154.1" height="44.95" rx="3"/><text class="t" y="11.2"><tspan x="3.8">学生是学习活动的主体，在数学教学中，教师</tspan><tspan x="3.8" dy="9.45">要根据学生的年龄特点和认知水平，适当设计</tspan><tspan x="3.8" dy="9.45">一些开放性问题，给学生供给自主探索的机会</tspan><tspan x="3.8" dy="9.45">。</tspan></text></g>
<g id="p4-h7-4" transform="translate(1027,3657.3)"><rect class="b" width="131.4" height="16.4" rx="3"/><text class="t" x="3.7" y="11">4.面向全体、全面提高学生的整体素质</text></g>
<g id="p4-h7-4a" transform="translate(1172.5,3593.9)"><rect class="b" width="154.6" height="63.85" rx="3"/><text class="t" y="11.2"><tspan x="3.8">(1)加强基础训练，在计算方面，重点是要加</tspan><tspan x="3.8" dy="9.45">强口算训练，。在应用题方面，要重视一步计</tspan><tspan x="3.8" dy="9.45">算应用题的练习。在练习中必须重视应用题结</tspan><tspan x="3.8" dy="9.45">构的训练，如根据条件补充问题、根据问题补</tspan><tspan x="3.8" dy="9.45">充条件等，这种题目要经常训练，它对于提高</tspan><tspan x="3.8" dy="9.45">学生分析数量关系的本事是大有裨益的。</tspan></text></g>
<g id="p4-h7-4b" transform="translate(1172.5,3673.9)"><rect class="b" width="154.6" height="63.85" rx="3"/><text class="t" y="11.2"><tspan x="3.8">(2)实施分层教学，弹性教学，针对学生的不</tspan><tspan x="3.8" dy="9.45">一样特点，不一样的理解本事，采取不一样的</tspan><tspan x="3.8" dy="9.45">方法，布置不一样的作业，注意因材施教，力</tspan><tspan x="3.8" dy="9.45">求"下要保底，上不封顶"即下要保义务教育的</tspan><tspan x="3.8" dy="9.45">共同要求，上要引导兴趣浓厚，学有余力的学</tspan><tspan x="3.8" dy="9.45">生进一步发展。</tspan></text></g>

<g id="related" transform="translate(766.6,3897.8)"><rect class="r" width="163.7" height="22.1" rx="11"/><text class="t tb" x="11.2" y="14.6">数学教学任课老师计划相关文章：</text></g>
<g id="rel-1" transform="translate(944.8,3753.4)"><rect class="b" width="115.3" height="16.6" rx="3"/><text class="t" x="3.8" y="11.2">★ 数学教师教学个人计划范文5篇</text></g>
<g id="rel-2" transform="translate(944.8,3786)"><rect class="b" width="115.3" height="16.6" rx="3"/><text class="t" x="3.8" y="11.2">★ 数学教师教学计划任务范文5篇</text></g>
<g id="rel-3" transform="translate(944.8,3818.7)"><rect class="b" width="115.3" height="16.6" rx="3"/><text class="t" x="3.8" y="11.2">★ 数学教师教学工作任务计划5篇</text></g>
<g id="rel-4" transform="translate(944.8,3851.3)"><rect class="b" width="115.3" height="16.6" rx="3"/><text class="t" x="3.8" y="11.2">★ 数学教学工作任务计划范文5篇</text></g>
<g id="rel-5" transform="translate(944.8,3884)"><rect class="b" width="115.3" height="16.6" rx="3"/><text class="t" x="3.8" y="11.2">★ 数学教师教学工作计划范本5篇</text></g>
<g id="rel-6" transform="translate(944.8,3916.6)"><rect class="b" width="106.1" height="16.6" rx="3"/><text class="t" x="3.8" y="11.2">★ 数学老师教学全新计划2022</text></g>
<g id="rel-7" transform="translate(944.8,3949.3)"><rect class="b" width="100.4" height="16.6" rx="3"/><text class="t" x="3.8" y="11.2">★ 数学教学任务计划模板5篇</text></g>
<g id="rel-8" transform="translate(944.8,3981.9)"><rect class="b" width="100.4" height="16.6" rx="3"/><text class="t" x="3.8" y="11.2">★ 通用数学教学任务计划5篇</text></g>
<g id="rel-9" transform="translate(944.8,4015)"><rect class="b" width="100.4" height="16.6" rx="3"/><text class="t" x="3.8" y="11.2">★ 数学教学通用任务计划5篇</text></g>
<g id="rel-10" transform="translate(944.8,4047.7)"><rect class="b" width="100.4" height="16.6" rx="3"/><text class="t" x="3.8" y="11.2">★ 数学教学任务分析计划5篇</text></g>

<g id="watermarks" class="wm">
<text transform="translate(187,360) rotate(-24)">树图 shutu.cn</text>
<text transform="translate(879,360) rotate(-24)">树图 shutu.cn</text>
<text transform="translate(187,895) rotate(-24)">树图 shutu.cn</text>
<text transform="translate(879,895) rotate(-24)">树图 shutu.cn</text>
<text transform="translate(187,1430) rotate(-24)">树图 shutu.cn</text>
<text transform="translate(879,1430) rotate(-24)">树图 shutu.cn</text>
<text transform="translate(187,1965) rotate(-24)">树图 shutu.cn</text>
<text transform="translate(879,1965) rotate(-24)">树图 shutu.cn</text>
<text transform="translate(187,2500) rotate(-24)">树图 shutu.cn</text>
<text transform="translate(879,2500) rotate(-24)">树图 shutu.cn</text>
<text transform="translate(187,3035) rotate(-24)">树图 shutu.cn</text>
<text transform="translate(879,3035) rotate(-24)">树图 shutu.cn</text>
<text transform="translate(187,3570) rotate(-24)">树图 shutu.cn</text>
<text transform="translate(879,3570) rotate(-24)">树图 shutu.cn</text>
<text transform="translate(187,4076) rotate(-24)">树图 shutu.cn</text>
<text transform="translate(879,4076) rotate(-24)">树图 shutu.cn</text>
</g>
</svg>
